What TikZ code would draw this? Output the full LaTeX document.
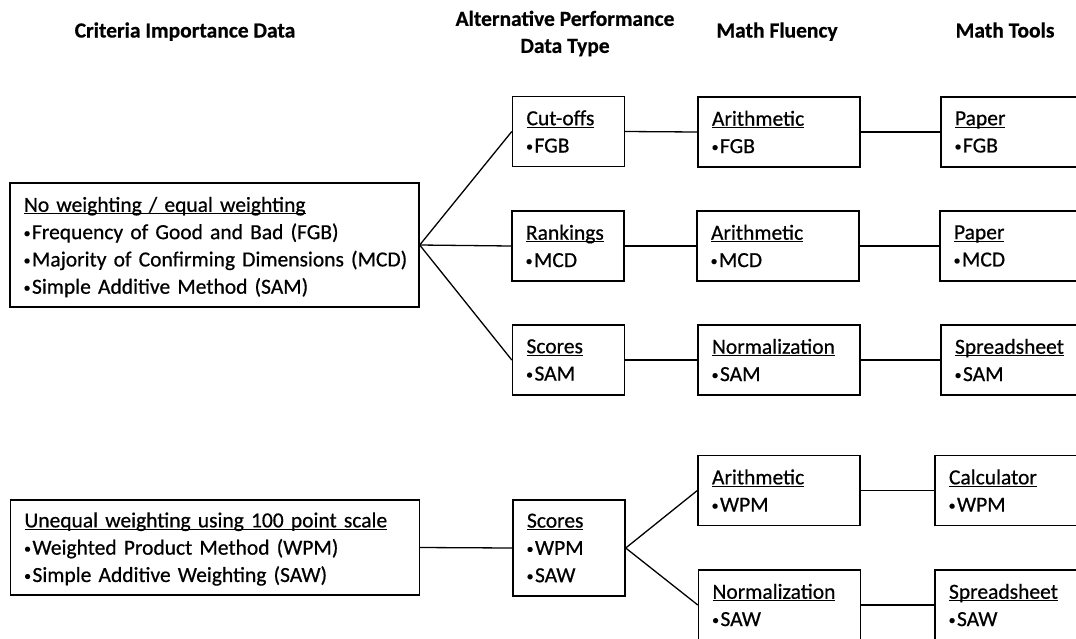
\documentclass[tikz,border=0pt]{standalone}
\usepackage{fontspec}
\setmainfont{Carlito}[FakeBold=0.6]
\newcommand{\ulx}[1]{\setbox0\hbox{#1}\rlap{\rule[-2.6pt]{\wd0}{1.2pt}}\box0}
\newcommand{\bul}{\makebox[8pt][l]{\kern-0.4pt\raisebox{1.5pt}{\fontsize{14}{14}\selectfont•}}}
\newcommand{\li}[1]{\mbox{\bul#1}}
\tikzset{
  box/.style={draw, line width=1.4pt, inner xsep=14pt, inner ysep=0pt, align=left,
    font=\fontsize{21.5}{27.3}\selectfont},
  colB/.style={text width=84pt, minimum height=70pt},
  colC/.style={text width=134pt, minimum height=70pt},
  colD/.style={text width=142pt, minimum height=70pt},
  colA/.style={text width=381pt},
  conn/.style={line width=1.3pt},
  title/.style={font=\fontsize{21.5}{27}\selectfont\bfseries, align=center}
}
\begin{document}
\begin{tikzpicture}[x=1pt,y=-1pt]
\useasboundingbox (0,0) rectangle (1076,638);
\clip (0,0) rectangle (1076,638);
% titles
\node[title, anchor=base] (t1) at (185,37.5) {Criteria Importance Data};
\node[title] (t2) at (565,33.5) {Alternative Performance\\Data Type};
\node[title, anchor=base] (t3) at (777,37.5) {Math Fluency};
\node[title, anchor=base] (t4) at (1005,37.5) {Math Tools};
% column A
\node[box, colA, minimum height=124pt] (a1) at (214.5,245) {\rule{0pt}{19pt}\ulx{No weighting / equal weighting}\\\li{Frequency of Good and Bad (FGB)}\\\li{Majority of Confirming Dimensions (MCD)}\\\li{Simple Additive Method (SAM)}};
\node[box, colA, minimum height=95pt] (a2) at (215,547.5) {\rule{0pt}{18pt}\ulx{Unequal weighting using 100 point scale}\\\li{Weighted Product Method (WPM)}\\\li{Simple Additive Weighting (SAW)}};
% column B
\node[box, colB] (b1) at (568.5,131.5) {\ulx{Cut-offs}\\\li{FGB}};
\node[box, colB] (b2) at (568,246) {\ulx{Rankings}\\\li{MCD}};
\node[box, colB] (b3) at (568.5,360) {\ulx{Scores}\\\li{SAM}};
\node[box, colB, minimum height=96pt] (b4) at (569,548) {\ulx{Scores}\\\li{WPM}\\\li{SAW}};
% column C
\node[box, colC] (c1) at (779,132) {\ulx{Arithmetic}\\\li{FGB}};
\node[box, colC] (c2) at (778,246) {\ulx{Arithmetic}\\\li{MCD}};
\node[box, colC] (c3) at (779,360) {\ulx{Normalization}\\\li{SAM}};
\node[box, colC] (c4) at (779,490.5) {\ulx{Arithmetic}\\\li{WPM}};
\node[box, colC] (c5) at (779.5,605) {\ulx{Normalization}\\\li{SAW}};
% column D
\node[box, colD] (d1) at (1026,132) {\ulx{Paper}\\\li{FGB}};
\node[box, colD] (d2) at (1025,246) {\ulx{Paper}\\\li{MCD}};
\node[box, colD] (d3) at (1026,360) {\ulx{Spreadsheet}\\\li{SAM}};
\node[box, colD] (d4) at (1020,490.5) {\ulx{Calculator}\\\li{WPM}};
\node[box, colD] (d5) at (1020,605) {\ulx{Spreadsheet}\\\li{SAW}};
% connectors
\draw[conn] (a1.east) -- (b1.west);
\draw[conn] (a1.east) -- (b2.west);
\draw[conn] (a1.east) -- (b3.west);
\draw[conn] (b1.east) -- (c1.west);
\draw[conn] (b2.east) -- (c2.west);
\draw[conn] (b3.east) -- (c3.west);
\draw[conn] (c1.east) -- (d1.west);
\draw[conn] (c2.east) -- (d2.west);
\draw[conn] (c3.east) -- (d3.west);
\draw[conn] (a2.east) -- (b4.west);
\draw[conn] (b4.east) -- (c4.west);
\draw[conn] (b4.east) -- (c5.west);
\draw[conn] (c4.east) -- (d4.west);
\draw[conn] (c5.east) -- (d5.west);
\end{tikzpicture}
\end{document}
